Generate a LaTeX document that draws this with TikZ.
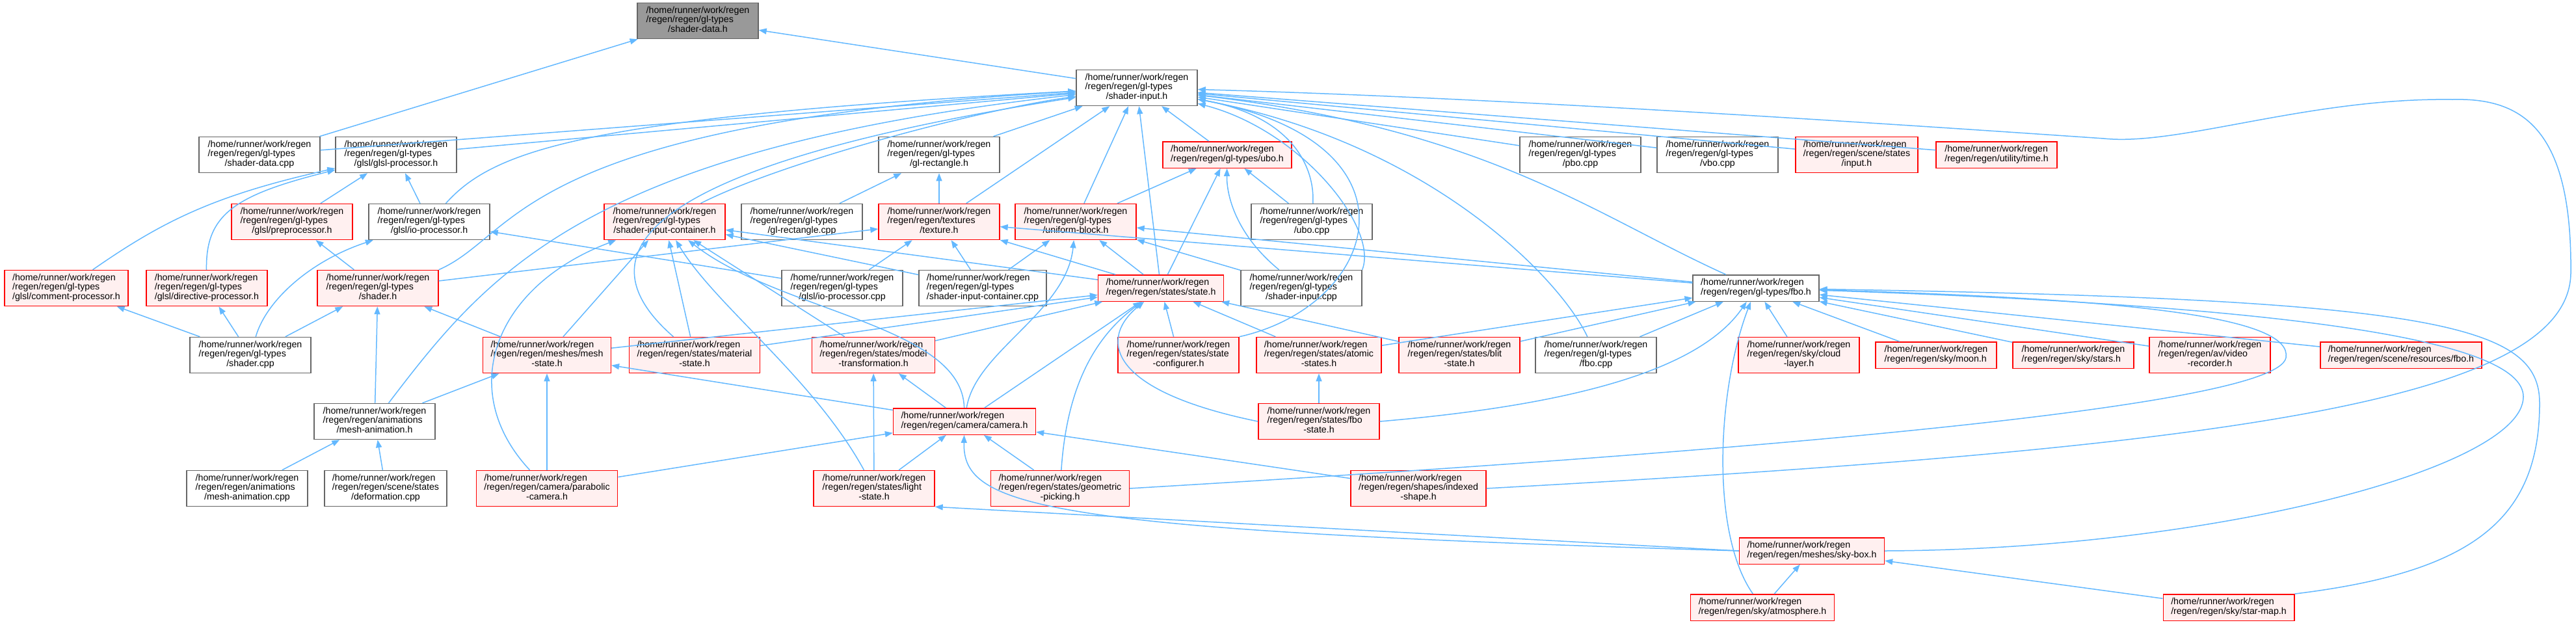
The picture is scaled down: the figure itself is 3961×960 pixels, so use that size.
\documentclass[tikz,border=0pt]{standalone}
\usepackage{fontspec}
\setmainfont{Liberation Sans}
\usetikzlibrary{arrows.meta}

\definecolor{depblue}{HTML}{63B8FF}
\definecolor{redfill}{HTML}{FFF0F0}
\definecolor{mainfill}{HTML}{999999}
\definecolor{boxgray}{HTML}{666666}

% three-line and two-line file labels
\newcommand{\fpath}[2]{\begin{tabular}{@{}l@{}}/home/runner/work/regen\\#1\\\multicolumn{1}{@{}c@{}}{#2}\end{tabular}}
\newcommand{\fpathshort}[1]{\begin{tabular}{@{}l@{}}/home/runner/work/regen\\#1\end{tabular}}

\begin{document}
\begin{tikzpicture}[x=0.5pt, y=-0.5pt,
	file/.style={draw=boxgray, fill=white, line width=0.7pt, inner xsep=6pt, inner ysep=2.75pt,
		minimum width=93pt, font=\fontsize{7.1}{7.35}\selectfont},
	redfile/.style={file, draw=red},
	redfile/.append style={fill=redfill},
	mainfile/.style={file, fill=mainfill},
	dep/.style={draw=depblue, line width=0.75pt, -{Triangle[length=6pt,width=4.5pt]}}]
		\useasboundingbox (0,0) rectangle (3961,960);

		% top file and shader-input.h
		\node[mainfile] (sdh) at (1073,32) {\fpath{/regen/regen/gl-types}{/shader-data.h}};
		\node[file] (sih) at (1748,135) {\fpath{/regen/regen/gl-types}{/shader-input.h}};

		% row 2
		\node[file] (sdcpp) at (399,238) {\fpath{/regen/regen/gl-types}{/shader-data.cpp}};
		\node[file] (glslproc) at (609,238) {\fpath{/regen/regen/gl-types}{/glsl/glsl-processor.h}};
		\node[file] (glrect) at (1444,238) {\fpath{/regen/regen/gl-types}{/gl-rectangle.h}};
		\node[redfile] (ubo) at (1887,238) {\fpathshort{/regen/regen/gl-types/ubo.h}};
		\node[file] (pbo) at (2430,238) {\fpath{/regen/regen/gl-types}{/pbo.cpp}};
		\node[file] (vbo) at (2641,238) {\fpath{/regen/regen/gl-types}{/vbo.cpp}};
		\node[redfile] (input) at (2855,238) {\fpath{/regen/regen/scene/states}{/input.h}};
		\node[redfile] (time) at (3070,238) {\fpathshort{/regen/regen/utility/time.h}};

		% row 3
		\node[redfile] (preproc) at (449,341) {\fpath{/regen/regen/gl-types}{/glsl/preprocessor.h}};
		\node[file] (ioproc) at (660,341) {\fpath{/regen/regen/gl-types}{/glsl/io-processor.h}};
		\node[redfile] (sich) at (1022,341) {\fpath{/regen/regen/gl-types}{/shader-input-container.h}};
		\node[file] (glrectcpp) at (1233,341) {\fpath{/regen/regen/gl-types}{/gl-rectangle.cpp}};
		\node[redfile] (texture) at (1444,341) {\fpath{/regen/regen/textures}{/texture.h}};
		\node[redfile] (uniblock) at (1654,341) {\fpath{/regen/regen/gl-types}{/uniform-block.h}};
		\node[file] (ubocpp) at (2017,341) {\fpath{/regen/regen/gl-types}{/ubo.cpp}};

		% row 4
		\node[redfile] (commentproc) at (102,443) {\fpath{/regen/regen/gl-types}{/glsl/comment-processor.h}};
		\node[redfile] (directiveproc) at (318,443) {\fpath{/regen/regen/gl-types}{/glsl/directive-processor.h}};
		\node[redfile] (shaderh) at (581,443) {\fpath{/regen/regen/gl-types}{/shader.h}};
		\node[file] (ioproccpp) at (1295,443) {\fpath{/regen/regen/gl-types}{/glsl/io-processor.cpp}};
		\node[file] (siccpp) at (1511,443) {\fpath{/regen/regen/gl-types}{/shader-input-container.cpp}};
		\node[redfile] (state) at (1785,443) {\fpathshort{/regen/regen/states/state.h}};
		\node[file] (sicpp) at (2001,443) {\fpath{/regen/regen/gl-types}{/shader-input.cpp}};
		\node[file] (fboh) at (2700,443) {\fpathshort{/regen/regen/gl-types/fbo.h}};

		% row 5
		\node[file] (shadercpp) at (385,546) {\fpath{/regen/regen/gl-types}{/shader.cpp}};
		\node[redfile] (meshstate) at (841,546) {\fpath{/regen/regen/meshes/mesh}{-state.h}};
		\node[redfile] (material) at (1068,546) {\fpath{/regen/regen/states/material}{-state.h}};
		\node[redfile] (modeltrans) at (1343,546) {\fpath{/regen/regen/states/model}{-transformation.h}};
		\node[redfile] (stateconf) at (1812,546) {\fpath{/regen/regen/states/state}{-configurer.h}};
		\node[redfile] (atomic) at (2028,546) {\fpath{/regen/regen/states/atomic}{-states.h}};
		\node[redfile] (blit) at (2244,546) {\fpath{/regen/regen/states/blit}{-state.h}};
		\node[file] (fbocpp) at (2454,546) {\fpath{/regen/regen/gl-types}{/fbo.cpp}};
		\node[redfile] (cloud) at (2766,546) {\fpath{/regen/regen/sky/cloud}{-layer.h}};
		\node[redfile] (moon) at (2977,546) {\fpathshort{/regen/regen/sky/moon.h}};
		\node[redfile] (stars) at (3188,546) {\fpathshort{/regen/regen/sky/stars.h}};
		\node[redfile] (video) at (3398,546) {\fpath{/regen/regen/av/video}{-recorder.h}};
		\node[redfile] (resfbo) at (3692,546) {\fpathshort{/regen/regen/scene/resources/fbo.h}};

		% row 6
		\node[file] (meshanim) at (576,648) {\fpath{/regen/regen/animations}{/mesh-animation.h}};
		\node[redfile] (camera) at (1483,648) {\fpathshort{/regen/regen/camera/camera.h}};
		\node[redfile] (fbostate) at (2028,648) {\fpath{/regen/regen/states/fbo}{-state.h}};

		% row 7
		\node[file] (meshanimcpp) at (380,751) {\fpath{/regen/regen/animations}{/mesh-animation.cpp}};
		\node[file] (deformcpp) at (593,751) {\fpath{/regen/regen/scene/states}{/deformation.cpp}};
		\node[redfile] (parabolic) at (841,751) {\fpath{/regen/regen/camera/parabolic}{-camera.h}};
		\node[redfile] (light) at (1344,751) {\fpath{/regen/regen/states/light}{-state.h}};
		\node[redfile] (geopick) at (1630,751) {\fpath{/regen/regen/states/geometric}{-picking.h}};
		\node[redfile] (indexed) at (2181,751) {\fpath{/regen/regen/shapes/indexed}{-shape.h}};

		% sky files at the bottom
		\node[redfile] (skybox) at (2786,847) {\fpathshort{/regen/regen/meshes/sky-box.h}};
		\node[redfile] (atmosphere) at (2710,934) {\fpathshort{/regen/regen/sky/atmosphere.h}};
		\node[redfile] (starmap) at (3427,934) {\fpathshort{/regen/regen/sky/star-map.h}};

		% includes of shader-data.h
		\draw[dep] (sdcpp) -- (sdh);
		\draw[dep] (sih) -- (sdh);

		% includes of shader-input.h
		\draw[dep] (sdcpp) -- (sih);
		\draw[dep] (glslproc) -- (sih);
		\draw[dep] (ioproc) .. controls (760,230) and (900,180) .. (sih);
		\draw[dep] (shaderh.north east) .. controls (800,360) and (790,190) .. (sih);
		\draw[dep] (meshanim) .. controls (750,420) and (900,230) .. (sih);
		\draw[dep] (material) .. controls (900,400) and (950,260) .. (sih);
		\draw[dep] (sich) .. controls (1200,250) and (1500,170) .. (sih);
		\draw[dep] (glrect) -- (sih);
		\draw[dep] (texture) -- (sih);
		\draw[dep] (uniblock) -- (sih);
		\draw[dep] (state) -- (sih);
		\draw[dep] (ubo) -- (sih);
		\draw[dep] (ubocpp) .. controls (2022,260) and (1990,180) .. (sih);
		\draw[dep] (sicpp.north east) .. controls (2120,350) and (2000,200) .. (sih);
		\draw[dep] (stateconf.north east) .. controls (2120,470) and (2200,220) .. (sih);
		\draw[dep] (fboh) .. controls (2450,330) and (2290,200) .. (sih);
		\draw[dep] (fbocpp) .. controls (2400,430) and (2200,220) .. (sih);
		\draw[dep] (pbo) -- (sih);
		\draw[dep] (vbo) -- (sih);
		\draw[dep] (input) -- (sih);
		\draw[dep] (time) -- (sih);
		\draw[dep] (indexed.east) .. controls (3400,690) and (3950,620) .. (3953,420)
			.. controls (3955,200) and (3880,150) .. (3771,153)
			.. controls (3550,150) and (3350,225) .. (3235,213)
			.. controls (2900,190) and (2300,150) .. (sih);

		% glsl processors and shader.h
		\draw[dep] (ioproc) -- (glslproc);
		\draw[dep] (preproc) -- (glslproc);
		\draw[dep] (commentproc) .. controls (250,340) and (330,300) .. (glslproc);
		\draw[dep] (directiveproc) .. controls (316,330) and (360,300) .. (glslproc);
		\draw[dep] (shaderh) -- (preproc);
		\draw[dep] (shaderh) -- (texture);
		\draw[dep] (shadercpp) -- (commentproc);
		\draw[dep] (shadercpp) -- (directiveproc);
		\draw[dep] (shadercpp) .. controls (410,460) and (480,400) .. (ioproc);
		\draw[dep] (shadercpp) -- (shaderh);
		\draw[dep] (ioproccpp) -- (ioproc);
		\draw[dep] (ioproccpp) -- (texture);

		% textures, ubo and uniform blocks
		\draw[dep] (glrectcpp) -- (glrect);
		\draw[dep] (texture) -- (glrect);
		\draw[dep] (uniblock) -- (ubo);
		\draw[dep] (ubocpp) -- (ubo);
		\draw[dep] (siccpp) -- (sich);
		\draw[dep] (siccpp) -- (uniblock);
		\draw[dep] (siccpp) -- (texture);
		\draw[dep] (sicpp) .. controls (1900,360) and (1886,300) .. (ubo);
		\draw[dep] (sicpp) -- (uniblock);
		\draw[dep] (fboh) -- (texture);
		\draw[dep] (fboh) -- (uniblock);

		% state.h
		\draw[dep] (state) -- (ubo);
		\draw[dep] (state) -- (uniblock);
		\draw[dep] (state) -- (texture);
		\draw[dep] (state) -- (sich);

		% states
		\draw[dep] (meshstate) -- (shaderh);
		\draw[dep] (meshstate) -- (sich);
		\draw[dep] (meshstate) -- (state);
		\draw[dep] (material) -- (sich);
		\draw[dep] (material) -- (state);
		\draw[dep] (modeltrans) -- (sich);
		\draw[dep] (modeltrans) -- (state);
		\draw[dep] (stateconf) -- (state);
		\draw[dep] (atomic) -- (state);
		\draw[dep] (atomic) -- (fboh);
		\draw[dep] (blit) -- (state);
		\draw[dep] (blit) -- (fboh);
		\draw[dep] (fbostate) -- (atomic);
		\draw[dep] (fbostate.west) .. controls (1700,600) and (1690,520) .. (state);
		\draw[dep] (fbostate.east) .. controls (2450,620) and (2620,560) .. (fboh);

		% fbo.h
		\draw[dep] (fbocpp) -- (fboh);
		\draw[dep] (cloud) -- (fboh);
		\draw[dep] (moon) -- (fboh);
		\draw[dep] (stars) -- (fboh);
		\draw[dep] (video) -- (fboh);
		\draw[dep] (resfbo) -- (fboh);

		% animations
		\draw[dep] (meshanim) -- (shaderh);
		\draw[dep] (meshanim) -- (meshstate);
		\draw[dep] (meshanimcpp) -- (meshanim);
		\draw[dep] (deformcpp) -- (meshanim);

		% camera
		\draw[dep] (camera) -- (meshstate);
		\draw[dep] (camera) .. controls (1480,500) and (1200,480) .. (sich);
		\draw[dep] (camera) -- (modeltrans);
		\draw[dep] (camera) -- (state);
		\draw[dep] (camera) .. controls (1500,540) and (1640,480) .. (uniblock);
		\draw[dep] (parabolic) .. controls (700,600) and (760,440) .. (sich);
		\draw[dep] (parabolic) -- (meshstate);
		\draw[dep] (parabolic) -- (camera);
		\draw[dep] (light) .. controls (1250,580) and (1100,470) .. (sich);
		\draw[dep] (light) -- (modeltrans);
		\draw[dep] (light) -- (camera);
		\draw[dep] (geopick) -- (camera);
		\draw[dep] (geopick) .. controls (1640,600) and (1680,520) .. (state);
		\draw[dep] (geopick.east) .. controls (2600,700) and (3500,630) .. (3515,550)
			.. controls (3525,490) and (3300,460) .. (fboh);
		\draw[dep] (indexed) -- (camera);

		% sky
		\draw[dep] (skybox.west) .. controls (1600,815) and (1480,780) .. (camera);
		\draw[dep] (skybox.west) -- (light.south east);
		\draw[dep] (skybox.east) .. controls (3400,845) and (3880,720) .. (3880,610)
			.. controls (3880,520) and (3500,470) .. (fboh);
		\draw[dep] (atmosphere) -- (skybox);
		\draw[dep] (atmosphere) .. controls (2630,820) and (2640,600) .. (fboh);
		\draw[dep] (starmap) -- (skybox);
		\draw[dep] (starmap.north east) .. controls (3800,880) and (3905,800) .. (3905,620)
			.. controls (3905,500) and (3750,460) .. (fboh);
	\end{tikzpicture}
\end{document}
